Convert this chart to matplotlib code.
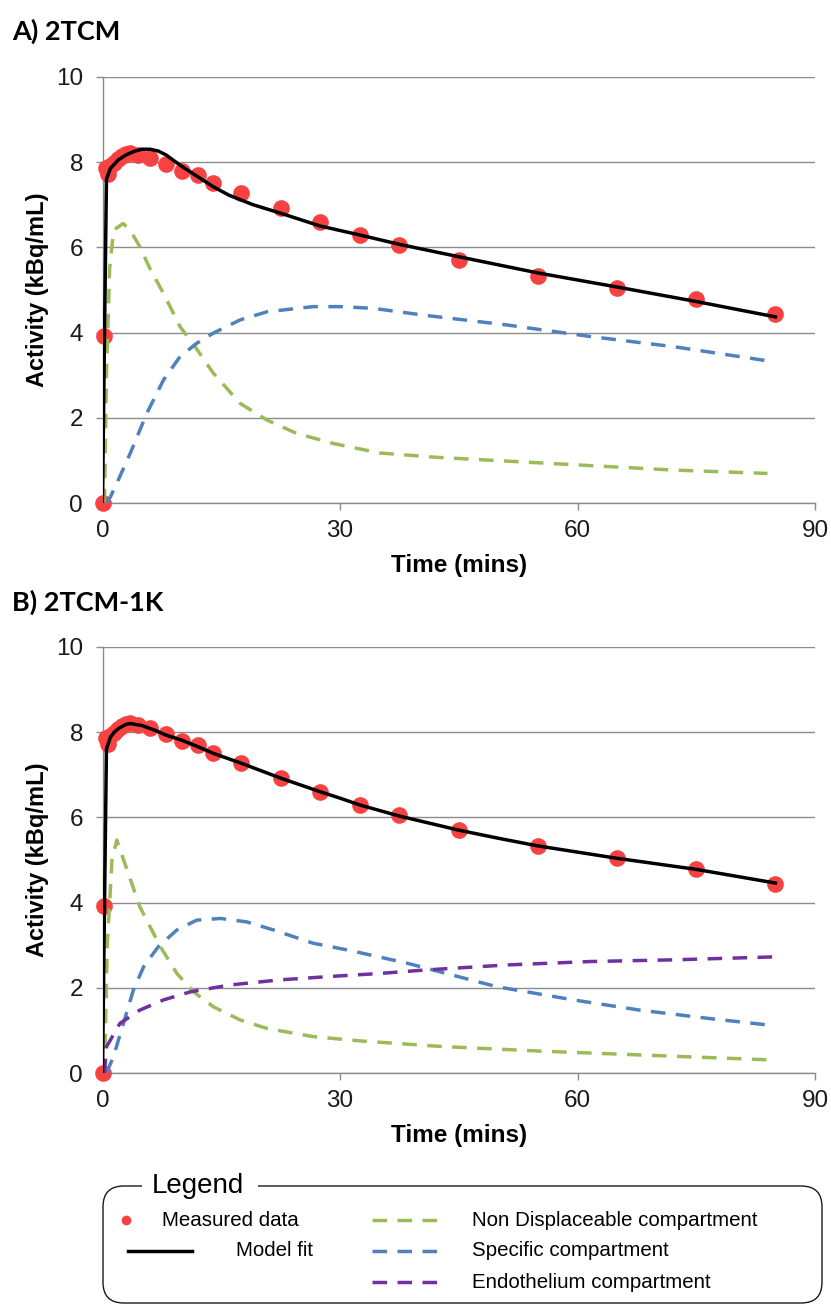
import matplotlib
matplotlib.use('Agg')
import matplotlib.pyplot as plt
from matplotlib.lines import Line2D
from matplotlib.patches import FancyBboxPatch, Rectangle

plt.rcParams['font.family'] = ['Liberation Sans', 'DejaVu Sans']

# measured data (same for both fits)
meas_t = [0, 0.25, 0.5, 0.75, 1, 1.5, 2, 2.5, 3, 3.5, 4.5, 6, 8, 10, 12, 14,
          17.5, 22.5, 27.5, 32.5, 37.5, 45, 55, 65, 75, 85]
meas_y = [0, 3.93, 7.85, 7.72, 7.9, 7.98, 8.08, 8.14, 8.18, 8.2, 8.16, 8.09,
          7.95, 7.8, 7.69, 7.5, 7.27, 6.92, 6.6, 6.29, 6.05, 5.7, 5.33, 5.04,
          4.79, 4.43]

# A) 2TCM
fitA_t = [0, 0.25, 0.5, 1, 1.5, 2, 3, 4, 5, 6, 7, 8, 10, 12, 14, 16, 19,
          22.5, 27.5, 32.5, 37.5, 45, 55, 65, 75, 85]
fitA_y = [0, 3.9, 7.6, 7.85, 7.95, 8.05, 8.17, 8.25, 8.3, 8.3, 8.26, 8.17,
          7.9, 7.66, 7.42, 7.22, 7.0, 6.8, 6.5, 6.29, 6.07, 5.78, 5.4, 5.07,
          4.73, 4.37]
ndA_t = [0.25, 0.5, 0.9, 1.4, 2.6, 3.5, 4.7, 6, 7.7, 9.8, 11.7, 14, 17.4,
         20.8, 24.5, 29.2, 35, 42, 50, 60, 72, 84]
ndA_y = [0, 3.0, 5.5, 6.4, 6.56, 6.4, 6.02, 5.5, 4.92, 4.14, 3.67, 3.05, 2.34,
         1.95, 1.64, 1.4, 1.18, 1.08, 1.0, 0.9, 0.78, 0.7]
spA_t = [0.5, 1, 2, 3.5, 5.6, 7.7, 9.8, 11.9, 14, 17.4, 20.8, 26.6, 30, 34.2,
         40.6, 51.1, 61.6, 72.2, 84]
spA_y = [0, 0.15, 0.55, 1.17, 2.11, 2.89, 3.44, 3.75, 3.99, 4.3, 4.49, 4.61,
         4.61, 4.57, 4.41, 4.18, 3.91, 3.67, 3.34]

# B) 2TCM-1K
fitB_t = [0, 0.25, 0.5, 1, 1.5, 2, 3, 3.5, 5, 6.5, 8, 10, 12, 14, 17.5, 22.5,
          27.5, 30, 32.5, 37.5, 45, 50, 55, 65, 75, 85]
fitB_y = [0, 3.9, 7.6, 7.88, 8.0, 8.08, 8.18, 8.2, 8.15, 8.05, 7.93, 7.81,
          7.66, 7.5, 7.27, 6.92, 6.6, 6.45, 6.29, 6.03, 5.7, 5.51, 5.33, 5.04,
          4.78, 4.46]
ndB_t = [0.25, 0.6, 1.2, 1.8, 3.1, 4.7, 7.3, 9.4, 11.5, 14, 17.4, 20.8, 26.6,
         32.5, 42.7, 55.3, 67.9, 85]
ndB_y = [0, 3.0, 5.0, 5.47, 4.77, 3.91, 2.97, 2.34, 1.91, 1.56, 1.25, 1.05,
         0.86, 0.76, 0.63, 0.52, 0.43, 0.31]
spB_t = [0.5, 1.4, 3.9, 5.2, 7.05, 9.4, 11.9, 14.9, 18.2, 21.6, 26.6, 31.5,
         38.5, 49.8, 59.5, 67.9, 76.4, 84.2]
spB_y = [0, 0.4, 1.95, 2.5, 2.97, 3.36, 3.59, 3.63, 3.55, 3.36, 3.05, 2.87,
         2.58, 2.03, 1.72, 1.48, 1.29, 1.13]
enB_t = [0.25, 0.5, 2.2, 4.7, 7.7, 11.1, 16.1, 22.4, 28.8, 35, 40.6, 51.1,
         61.6, 72.2, 85]
enB_y = [0, 0.62, 1.17, 1.48, 1.72, 1.91, 2.07, 2.19, 2.27, 2.34, 2.42, 2.54,
         2.62, 2.66, 2.73]

RED = '#f84141'
GREEN = '#9bbb59'
BLUE = '#4f81bd'
PURPLE = '#7030a0'
GRID = '#8c8c8c'
DASH = (0, (4.2, 3.0))

W, H = 831, 1307
fig = plt.figure(figsize=(W / 100, H / 100), dpi=100)


def panel(top_px, curves, fit_t, fit_y):
    ax = fig.add_axes([102.5 / W, 1 - (top_px + 426.6) / H,
                       712.5 / W, 426.6 / H])
    ax.plot(meas_t, meas_y, 'o', color=RED, ms=12, mec='none',
            clip_on=False, zorder=3)
    for t, y, c in curves:
        ax.plot(t, y, color=c, lw=2.5, linestyle=DASH, zorder=4)
    ax.plot(fit_t, fit_y, color='black', lw=2.5, zorder=5)
    ax.set_xlim(0, 90)
    ax.set_ylim(0, 10)
    ax.set_xticks([0, 30, 60, 90])
    ax.set_yticks([0, 2, 4, 6, 8, 10])
    ax.grid(axis='y', color=GRID, lw=1.0)
    ax.set_axisbelow(True)
    for s in ['top', 'right']:
        ax.spines[s].set_visible(False)
    for s in ['left', 'bottom']:
        ax.spines[s].set_color(GRID)
        ax.spines[s].set_linewidth(1.0)
    ax.tick_params(direction='out', length=5, width=1.0, color=GRID,
                   labelsize=17.5, labelcolor='#1a1a1a')
    ax.tick_params(axis='y', pad=9)
    ax.tick_params(axis='x', pad=7)
    ax.set_xlabel('Time (mins)', fontsize=17.5, fontweight='bold',
                  labelpad=9)
    ax.set_ylabel('Activity (kBq/mL)', fontsize=17, fontweight='bold',
                  labelpad=5)
    return ax


panel(76.7, [(ndA_t, ndA_y, GREEN), (spA_t, spA_y, BLUE)], fitA_t, fitA_y)
panel(646.7, [(ndB_t, ndB_y, GREEN), (spB_t, spB_y, BLUE),
              (enB_t, enB_y, PURPLE)], fitB_t, fitB_y)

fig.text(12 / W, 1 - 31 / H, 'A) 2TCM', fontsize=19.5, fontweight='bold',
         family='Lato', va='center', ha='left')
fig.text(12 / W, 1 - 602 / H, 'B) 2TCM-1K', fontsize=19.5, fontweight='bold',
         family='Lato', va='center', ha='left')


# legend box (fieldset style, title sitting on the border)
def fx(px):
    return px / W


def fy(py):
    return 1 - py / H


box = FancyBboxPatch((fx(103), fy(1303)), fx(822) - fx(103),
                     fy(1186) - fy(1303),
                     boxstyle='round,pad=0,rounding_size=0.025',
                     transform=fig.transFigure, fill=False, ec='#1a1a1a',
                     lw=1.0, mutation_aspect=W / H)
fig.patches.append(box)
fig.patches.append(Rectangle((fx(142), fy(1200)), fx(258) - fx(142),
                             fy(1172) - fy(1200), transform=fig.transFigure,
                             fc='white', ec='none', zorder=2))
fig.text(fx(152), fy(1186), 'Legend', fontsize=20, va='center', ha='left',
         zorder=3)

rows = [1220, 1251, 1282]
fig.lines.append(Line2D([fx(126)], [fy(rows[0])], marker='o', ms=7,
                        color=RED, mec='none', transform=fig.transFigure))
fig.text(fx(162), fy(rows[0]), 'Measured data', fontsize=14.8, va='center')
fig.lines.append(Line2D([fx(128), fx(192)], [fy(rows[1])] * 2, color='black',
                        lw=2.5, transform=fig.transFigure))
fig.text(fx(236), fy(rows[1]), 'Model fit', fontsize=14.8, va='center')
for r, c, lab in [(rows[0], GREEN, 'Non Displaceable compartment'),
                  (rows[1], BLUE, 'Specific compartment'),
                  (rows[2], PURPLE, 'Endothelium compartment')]:
    fig.lines.append(Line2D([fx(372), fx(440)], [fy(r)] * 2, color=c, lw=2.5,
                            linestyle=DASH, transform=fig.transFigure))
    fig.text(fx(472), fy(r), lab, fontsize=14.8, va='center')

fig.savefig('out.png', dpi=100)
